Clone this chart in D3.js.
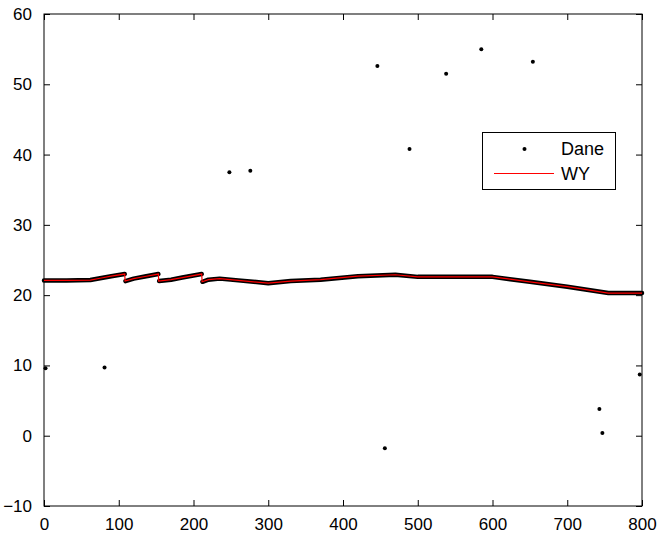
<!DOCTYPE html>
<html>
<head>
<meta charset="utf-8">
<script src="https://cdn.jsdelivr.net/npm/d3@7"></script>
<style>
  body { margin: 0; background: #fff; }
  svg text { font-family: "Liberation Sans", Arial, Helvetica, sans-serif; }
</style>
</head>
<body>
<svg id="chart" width="658" height="533"></svg>
<script>
// 축 범위와 눈금
const X_DOMAIN = [0, 800];
const Y_DOMAIN = [-10, 60];
const xTicks = [0, 100, 200, 300, 400, 500, 600, 700, 800];
const yTicks = [-10, 0, 10, 20, 30, 40, 50, 60];

// "Dane" - 곡선을 따라 촘촘히 찍힌 점들 (끊김 = null)
const daneTrendX = [0, 30, 62, 75, 90, 108, null, 109, 120, 135, 153, null, 154, 170, 185, 211, null, 212, 220, 235, 260, 300, 330, 370, 420, 470, 500, 600, 650, 700, 755, 800];
const daneTrendY = [22.1, 22.1, 22.15, 22.4, 22.7, 23.0, null, 22.0, 22.35, 22.65, 23.0, null, 22.0, 22.2, 22.5, 23.0, null, 21.9, 22.2, 22.35, 22.1, 21.7, 22.0, 22.2, 22.7, 22.9, 22.6, 22.6, 21.9, 21.2, 20.3, 20.3];

// "Dane" - 떨어진 점들
const daneOutX = [2, 81, 248, 276, 446, 456, 489, 538, 585, 654, 743, 747, 797];
const daneOutY = [9.6, 9.7, 37.5, 37.7, 52.6, -1.8, 40.8, 51.5, 55.0, 53.2, 3.8, 0.4, 8.7];

// "WY" - 빨간 선
const wyX = [0, 30, 62, 75, 90, 108, 108.5, 120, 135, 153, 153.5, 170, 185, 211, 211.5, 220, 235, 260, 300, 330, 370, 420, 470, 500, 600, 650, 700, 755, 800];
const wyY = [22.1, 22.1, 22.15, 22.4, 22.7, 23.0, 22.0, 22.35, 22.65, 23.0, 22.0, 22.2, 22.5, 23.0, 21.9, 22.2, 22.35, 22.1, 21.7, 22.0, 22.2, 22.7, 22.9, 22.6, 22.6, 21.9, 21.2, 20.3, 20.3];

const legendLabels = ["Dane", "WY"];

const W = 658, H = 533;
const m = { left: 44, right: 16, top: 14, bottom: 27 };
const svg = d3.select("#chart");

const x = d3.scaleLinear().domain(X_DOMAIN).range([m.left, W - m.right]);
const y = d3.scaleLinear().domain(Y_DOMAIN).range([H - m.bottom, m.top]);

const TICK = 6;

// 눈금 (안쪽으로) - 네 변 모두
function styleAxis(g) {
    g.select(".domain").remove();
    g.selectAll("line").attr("stroke", "#000").attr("stroke-width", 1);
    g.selectAll("text").attr("fill", "#000").style("font-size", "17px");
}
svg.append("g").attr("transform", `translate(0,${y(-10)})`)
    .call(d3.axisBottom(x).tickValues(xTicks).tickSizeInner(-TICK).tickSizeOuter(0).tickPadding(12).tickFormat(d3.format("d")))
    .call(styleAxis);
svg.append("g").attr("transform", `translate(0,${y(60)})`)
    .call(d3.axisTop(x).tickValues(xTicks).tickSizeInner(-TICK).tickSizeOuter(0).tickFormat(""))
    .call(styleAxis);
svg.append("g").attr("transform", `translate(${x(0)},0)`)
    .call(d3.axisLeft(y).tickValues(yTicks).tickSizeInner(-TICK).tickSizeOuter(0).tickPadding(12).tickFormat(d => d < 0 ? "\u2212" + Math.abs(d) : d))
    .call(styleAxis);
svg.append("g").attr("transform", `translate(${x(800)},0)`)
    .call(d3.axisRight(y).tickValues(yTicks).tickSizeInner(-TICK).tickSizeOuter(0).tickFormat(""))
    .call(styleAxis);

// 테두리
svg.append("rect")
    .attr("x", x(0)).attr("y", y(60))
    .attr("width", x(800) - x(0)).attr("height", y(-10) - y(60))
    .attr("fill", "none").attr("stroke", "#000").attr("stroke-width", 1);

const plot = svg.append("g");

// Dane 촘촘한 점 띠
const trend = daneTrendX.map((v, i) => [v, daneTrendY[i]]);
const bandLine = d3.line()
    .defined(d => d[0] !== null)
    .x(d => x(d[0])).y(d => y(d[1]));
plot.append("path")
    .attr("d", bandLine(trend))
    .attr("fill", "none").attr("stroke", "#000")
    .attr("stroke-width", 4.5).attr("stroke-linejoin", "round").attr("stroke-linecap", "round");

// WY 빨간 선
const wy = wyX.map((v, i) => [v, wyY[i]]);
plot.append("path")
    .attr("d", d3.line().x(d => x(d[0])).y(d => y(d[1]))(wy))
    .attr("fill", "none").attr("stroke", "#ff0000").attr("stroke-width", 1.2);

// Dane 떨어진 점
plot.selectAll("circle.out")
    .data(daneOutX.map((v, i) => [v, daneOutY[i]]))
    .join("circle").attr("class", "out")
    .attr("cx", d => x(d[0])).attr("cy", d => y(d[1]))
    .attr("r", 2).attr("fill", "#000");

// 범례
const lg = svg.append("g").attr("transform", "translate(482.5,132.5)");
lg.append("rect").attr("width", 133).attr("height", 57)
    .attr("fill", "#fff").attr("stroke", "#000").attr("stroke-width", 1);
lg.append("circle").attr("cx", 42).attr("cy", 16.5).attr("r", 2).attr("fill", "#000");
lg.append("line").attr("x1", 11.5).attr("x2", 71.5).attr("y1", 41).attr("y2", 41)
    .attr("stroke", "#ff0000").attr("stroke-width", 1).attr("shape-rendering", "crispEdges");
lg.selectAll("text.lab").data(legendLabels).join("text").attr("class", "lab")
    .attr("x", 78.5).attr("y", (d, i) => 22.5 + i * 25)
    .style("font-size", "18px").attr("fill", "#000")
    .text(d => d);
</script>
</body>
</html>
